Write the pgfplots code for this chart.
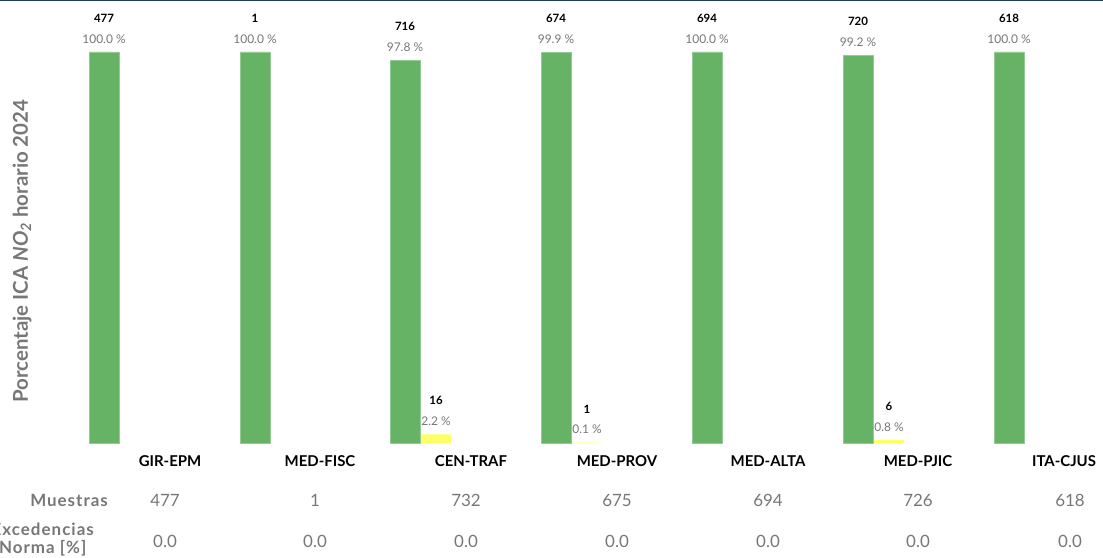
\documentclass[border=0pt]{standalone}
\usepackage{pgfplots}
\pgfplotsset{compat=1.18}
\usepackage{fontspec}
\setmainfont{Lato}
\definecolor{gbar}{HTML}{66B366}
\definecolor{yelbar}{HTML}{FFFF66}
\definecolor{tgray}{HTML}{777777}
\definecolor{topline}{HTML}{1F3A5A}
\pgfplotstableread{
x y n p
104 100.0 477 100.0
255 100.0 1 100.0
405 97.8 716 97.8
556 99.9 674 99.9
707 100.0 694 100.0
858 99.2 720 99.2
1009 100.0 618 100.0
}\green
\pgfplotstableread{
x y n p
436 2.2 16 2.2
587 0.1 1 0.1
889 0.8 6 0.8
}\yel
\begin{document}
\begin{tikzpicture}
\begin{axis}[name=ax, scale only axis, width=1103bp, height=558bp, hide axis, clip=false,
  xmin=0, xmax=1103, ymin=-29.41, ymax=113.3,
  every node near coord/.append style={anchor=south},
]
\addplot[ybar, bar width=30, fill=gbar, draw=gbar!70!white, point meta=explicit symbolic,
  nodes near coords={\pgfplotspointmeta\ \%}, every node near coord/.append style={font=\fontsize{12}{14}\selectfont, text=tgray, yshift=5bp}] table[x=x,y=y,meta=p] {\green};
\addplot[ybar, bar width=30, fill=yelbar, draw=none, point meta=explicit symbolic,
  nodes near coords={\pgfplotspointmeta\ \%}, every node near coord/.append style={font=\fontsize{12}{14}\selectfont, text=tgray, yshift=5bp}] table[x=x,y=y,meta=p] {\yel};
\addplot[ybar, bar width=30, fill=none, draw=none, point meta=explicit symbolic,
  nodes near coords={\pgfplotspointmeta}, every node near coord/.append style={font=\fontsize{11.5}{13}\selectfont\bfseries, text=black, yshift=26bp}] table[x=x,y=y,meta=n] {\green};
\addplot[ybar, bar width=30, fill=none, draw=none, point meta=explicit symbolic,
  nodes near coords={\pgfplotspointmeta}, every node near coord/.append style={font=\fontsize{11.5}{13}\selectfont\bfseries, text=black, yshift=26bp}] table[x=x,y=y,meta=n] {\yel};
\node[font=\fontsize{15}{17}\selectfont\bfseries] at (axis cs:170,-4.6) {GIR-EPM};
\node[font=\fontsize{15}{17}\selectfont\bfseries] at (axis cs:320,-4.6) {MED-FISC};
\node[font=\fontsize{15}{17}\selectfont\bfseries] at (axis cs:471,-4.6) {CEN-TRAF};
\node[font=\fontsize{15}{17}\selectfont\bfseries] at (axis cs:617,-4.6) {MED-PROV};
\node[font=\fontsize{15}{17}\selectfont\bfseries] at (axis cs:768,-4.6) {MED-ALTA};
\node[font=\fontsize{15}{17}\selectfont\bfseries] at (axis cs:918,-4.6) {MED-PJIC};
\node[font=\fontsize{15}{17}\selectfont\bfseries] at (axis cs:1064,-4.6) {ITA-CJUS};
\node[font=\fontsize{17}{19}\selectfont, text=tgray] at (axis cs:165,-14.8) {477};
\node[font=\fontsize{17}{19}\selectfont, text=tgray] at (axis cs:315,-14.8) {1};
\node[font=\fontsize{17}{19}\selectfont, text=tgray] at (axis cs:466,-14.8) {732};
\node[font=\fontsize{17}{19}\selectfont, text=tgray] at (axis cs:617,-14.8) {675};
\node[font=\fontsize{17}{19}\selectfont, text=tgray] at (axis cs:768,-14.8) {694};
\node[font=\fontsize{17}{19}\selectfont, text=tgray] at (axis cs:918,-14.8) {726};
\node[font=\fontsize{17}{19}\selectfont, text=tgray] at (axis cs:1070,-14.8) {618};
\node[font=\fontsize{17}{19}\selectfont, text=tgray] at (axis cs:165,-25.1) {0.0};
\node[font=\fontsize{17}{19}\selectfont, text=tgray] at (axis cs:315,-25.1) {0.0};
\node[font=\fontsize{17}{19}\selectfont, text=tgray] at (axis cs:466,-25.1) {0.0};
\node[font=\fontsize{17}{19}\selectfont, text=tgray] at (axis cs:617,-25.1) {0.0};
\node[font=\fontsize{17}{19}\selectfont, text=tgray] at (axis cs:768,-25.1) {0.0};
\node[font=\fontsize{17}{19}\selectfont, text=tgray] at (axis cs:918,-25.1) {0.0};
\node[font=\fontsize{17}{19}\selectfont, text=tgray] at (axis cs:1070,-25.1) {0.0};
\node[font=\fontsize{17}{19}\selectfont\bfseries\addfontfeature{LetterSpace=6}, text=tgray, anchor=east, inner sep=0pt] at (axis cs:108,-14.8) {Muestras};
\node[font=\fontsize{17}{18}\selectfont\bfseries\addfontfeature{LetterSpace=6}, text=tgray, align=center, anchor=east, inner sep=0pt] at (axis cs:94,-24.8) {Excedencias\\Norma [\%]};
\node[font=\fontsize{20.5}{22}\selectfont\bfseries, text=tgray, rotate=90] at (axis cs:22,49.1) {Porcentaje ICA \textit{NO}\textsubscript{\textit{2}} horario 2024};
\draw[topline, line width=2.5bp] (axis cs:0,113.3) -- (axis cs:1103,113.3);
\end{axis}
\pgfresetboundingbox
\path[use as bounding box] (ax.south west) rectangle (ax.north east);
\end{tikzpicture}
\end{document}
